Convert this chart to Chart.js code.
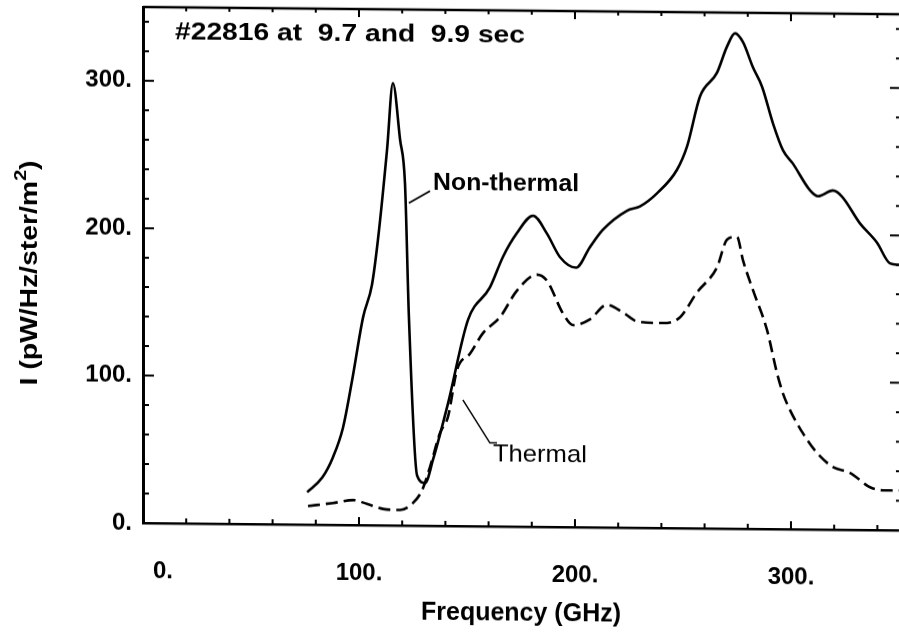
<!DOCTYPE html>
<html>
<head>
<meta charset="utf-8">
<title>#22816 emission spectrum</title>
<script src="https://cdn.jsdelivr.net/npm/chart.js@4.4.0/dist/chart.umd.min.js"></script>
<style>
  html, body { margin: 0; padding: 0; background: #fff; overflow: hidden; }
  /* the scanned plot sits slightly sheared on the page */
  #wrap { width: 899px; height: 641px; transform: skewY(0.55deg); transform-origin: 143px 0; }
</style>
</head>
<body>
<div id="wrap"><canvas id="spectrum" width="899" height="641"></canvas></div>
<script>
// Non-thermal spectrum (solid)
const nonThermalFreq = [76, 83, 88, 92.6, 96.8, 101.9, 106, 108.8, 113, 115.7, 119, 121.3, 123.1, 126.9, 130.6,
    134.3, 141.2, 150.5, 160.6, 166.7, 173.1, 180.6, 187, 193.1, 200.5, 206.9, 213, 224.1, 230.1, 238,
    247.2, 251.9, 257.9, 265.7, 270.4, 274.1, 277.8, 282.4, 286.6, 291.7, 296.3, 300.9, 308.8, 312.5,
    319.4, 323.6, 331.9, 339.8, 345.8, 350];
const nonThermalI = [22, 32, 46, 66, 98, 141, 163, 194, 255, 300, 262, 232, 142, 34, 29,
    45, 83, 140, 162, 183, 199, 211, 199, 183, 176, 190, 202, 215, 218, 227,
    243, 259, 293, 309, 327, 336, 330, 313, 300, 275, 257, 248, 230, 226,
    230, 226, 208, 195, 181, 180];

// Thermal spectrum (dashed)
const thermalFreq = [76.4, 88, 97.2, 103.7, 111.1, 119, 125, 129.2, 132.9, 137.5, 141.2, 145.4, 151.4, 157.4,
    165.3, 173.1, 182.4, 187, 194.4, 199.1, 206.9, 214.8, 222.2, 228.7, 240.7, 248.6, 256.5, 265.7,
    270.4, 275, 277.8, 282.4, 288.9, 293.5, 296.3, 299.5, 305.6, 312, 319.4, 327.3, 336.6, 342.6, 350];
const thermalI = [12.6, 14.8, 16.9, 14.4, 11.1, 10.5, 15.3, 24, 40, 63, 74, 106, 117, 131,
    142, 160, 171, 167, 145, 137, 141, 151, 146, 140, 139, 143, 160, 177,
    196, 198, 182, 162, 135, 106, 92, 81, 65, 52, 42.5, 38.6, 29, 27, 27];

const xTickValues = [0, 100, 200, 300];
const yTickValues = [0, 100, 200, 300];

// label anchors, in data units
const notes = {
    nonThermal: { text: 'Non-thermal', from: [123.1, 218.8], to: [132.9, 227.1], at: [134.3, 232.6], width: 146, weight: 'bold' },
    thermal: { text: 'Thermal', from: [148.1, 85.5], elbow: [160.6, 56.6], to: [163.9, 56.6], at: [162, 48.4], width: 94, weight: 'normal' }
};

const FONT = "'Liberation Sans', Arial, Helvetica, sans-serif";

function toPoints(xs, ys) {
    return xs.map((x, i) => ({ x: x, y: ys[i] }));
}

// draw text squeezed/stretched to a given width
function fitText(ctx, text, x, y, width, font) {
    ctx.save();
    ctx.font = font;
    const w = ctx.measureText(text).width;
    ctx.translate(x, y);
    ctx.scale(width / w, 1);
    ctx.textAlign = 'left';
    ctx.textBaseline = 'middle';
    ctx.fillText(text, 0, 0);
    ctx.restore();
}

const frame = {
    id: 'frame',
    afterDatasetsDraw(chart) {
        const { ctx, chartArea: a, scales: { x, y } } = chart;
        ctx.save();
        ctx.strokeStyle = '#000';
        ctx.fillStyle = '#000';
        ctx.lineCap = 'butt';

        // top frame line
        ctx.lineWidth = 2.5;
        ctx.beginPath();
        ctx.moveTo(a.left, a.top);
        ctx.lineTo(a.right, a.top);
        ctx.stroke();

        // inward tick marks, minor every 20, major every 100
        ctx.lineWidth = 2;
        ctx.beginPath();
        for (let v = 20; v < 350; v += 20) {
            const px = x.getPixelForValue(v);
            const major = v % 100 === 0;
            ctx.moveTo(px, a.bottom); ctx.lineTo(px, a.bottom - (major ? 8 : 5));
            ctx.moveTo(px, a.top); ctx.lineTo(px, a.top + (major ? 8 : 4));
        }
        for (let v = 20; v < 350; v += 20) {
            const py = y.getPixelForValue(v);
            const major = v % 100 === 0;
            ctx.moveTo(a.left, py); ctx.lineTo(a.left + (major ? 11 : 6), py);
            ctx.moveTo(a.right, py); ctx.lineTo(a.right - (major ? 9 : 3), py);
        }
        ctx.stroke();

        // shot header
        fitText(ctx, '#22816 at  9.7 and  9.9 sec', 175, 32, 350, 'bold 24px ' + FONT);

        // curve labels with leader lines
        ctx.lineWidth = 1.8;
        const nt = notes.nonThermal;
        ctx.beginPath();
        ctx.moveTo(x.getPixelForValue(nt.from[0]), y.getPixelForValue(nt.from[1]));
        ctx.lineTo(x.getPixelForValue(nt.to[0]), y.getPixelForValue(nt.to[1]));
        ctx.stroke();
        fitText(ctx, nt.text, x.getPixelForValue(nt.at[0]), y.getPixelForValue(nt.at[1]), nt.width, nt.weight + ' 24px ' + FONT);

        const th = notes.thermal;
        ctx.lineWidth = 1.5;
        ctx.beginPath();
        ctx.moveTo(x.getPixelForValue(th.from[0]), y.getPixelForValue(th.from[1]));
        ctx.lineTo(x.getPixelForValue(th.elbow[0]), y.getPixelForValue(th.elbow[1]));
        ctx.lineTo(x.getPixelForValue(th.to[0]), y.getPixelForValue(th.to[1]));
        ctx.stroke();
        fitText(ctx, th.text, x.getPixelForValue(th.at[0]), y.getPixelForValue(th.at[1]), th.width, th.weight + ' 24px ' + FONT);

        // y axis title with superscript
        const main = 'I (pW/Hz/ster/m', sup = '2', tail = ')';
        const bigFont = 'bold 24px ' + FONT, smallFont = 'bold 17px ' + FONT;
        ctx.font = bigFont;
        const wMain = ctx.measureText(main).width, wTail = ctx.measureText(tail).width;
        ctx.font = smallFont;
        const wSup = ctx.measureText(sup).width;
        const total = wMain + wSup + wTail;
        ctx.translate(30, 274);
        ctx.rotate(-Math.PI / 2);
        ctx.scale(225 / total, 1);
        ctx.textAlign = 'left';
        ctx.textBaseline = 'middle';
        let cx = -total / 2;
        ctx.font = bigFont;
        ctx.fillText(main, cx, 0);
        cx += wMain;
        ctx.font = smallFont;
        ctx.fillText(sup, cx, -9);
        cx += wSup;
        ctx.font = bigFont;
        ctx.fillText(tail, cx, 0);
        ctx.restore();
    }
};

const tickFont = { family: FONT, size: 24, weight: 'bold' };

new Chart(document.getElementById('spectrum'), {
    type: 'line',
    data: {
        datasets: [{
            label: 'Non-thermal',
            data: toPoints(nonThermalFreq, nonThermalI),
            borderColor: '#000',
            borderWidth: 2.6,
            cubicInterpolationMode: 'monotone',
            pointRadius: 0,
            fill: false
        }, {
            label: 'Thermal',
            data: toPoints(thermalFreq, thermalI),
            borderColor: '#000',
            borderWidth: 2.6,
            borderDash: [12, 6],
            cubicInterpolationMode: 'monotone',
            pointRadius: 0,
            fill: false
        }]
    },
    options: {
        responsive: false,
        animation: false,
        devicePixelRatio: 1,
        layout: { padding: { top: 7, left: 0, right: 0, bottom: 0 } },
        plugins: {
            legend: { display: false },
            tooltip: { enabled: false }
        },
        scales: {
            x: {
                type: 'linear',
                min: 0,
                max: 350,
                afterBuildTicks: s => { s.ticks = xTickValues.map(v => ({ value: v })); },
                afterFit: s => { s.height = 118; s.paddingLeft = 0; s.paddingRight = 0; },
                grid: { display: false, drawTicks: false },
                border: { display: true, color: '#000', width: 2.5 },
                ticks: {
                    color: '#000',
                    font: tickFont,
                    padding: 34,
                    maxRotation: 0,
                    autoSkip: false,
                    callback: v => (v === 0 ? '      0.' : v + '.')
                },
                title: {
                    display: true,
                    text: 'Frequency (GHz)',
                    color: '#000',
                    font: { family: FONT, size: 25, weight: 'bold' },
                    padding: { top: 0, bottom: 16 }
                }
            },
            y: {
                type: 'linear',
                min: 0,
                max: 350,
                afterBuildTicks: s => { s.ticks = yTickValues.map(v => ({ value: v })); },
                afterFit: s => { s.width = 143; s.paddingTop = 0; s.paddingBottom = 0; },
                grid: { display: false, drawTicks: false },
                border: { display: true, color: '#000', width: 3 },
                ticks: {
                    color: '#000',
                    font: tickFont,
                    padding: 11,
                    autoSkip: false,
                    callback: v => v + '.'
                }
            }
        }
    },
    plugins: [frame]
});
</script>
</body>
</html>
